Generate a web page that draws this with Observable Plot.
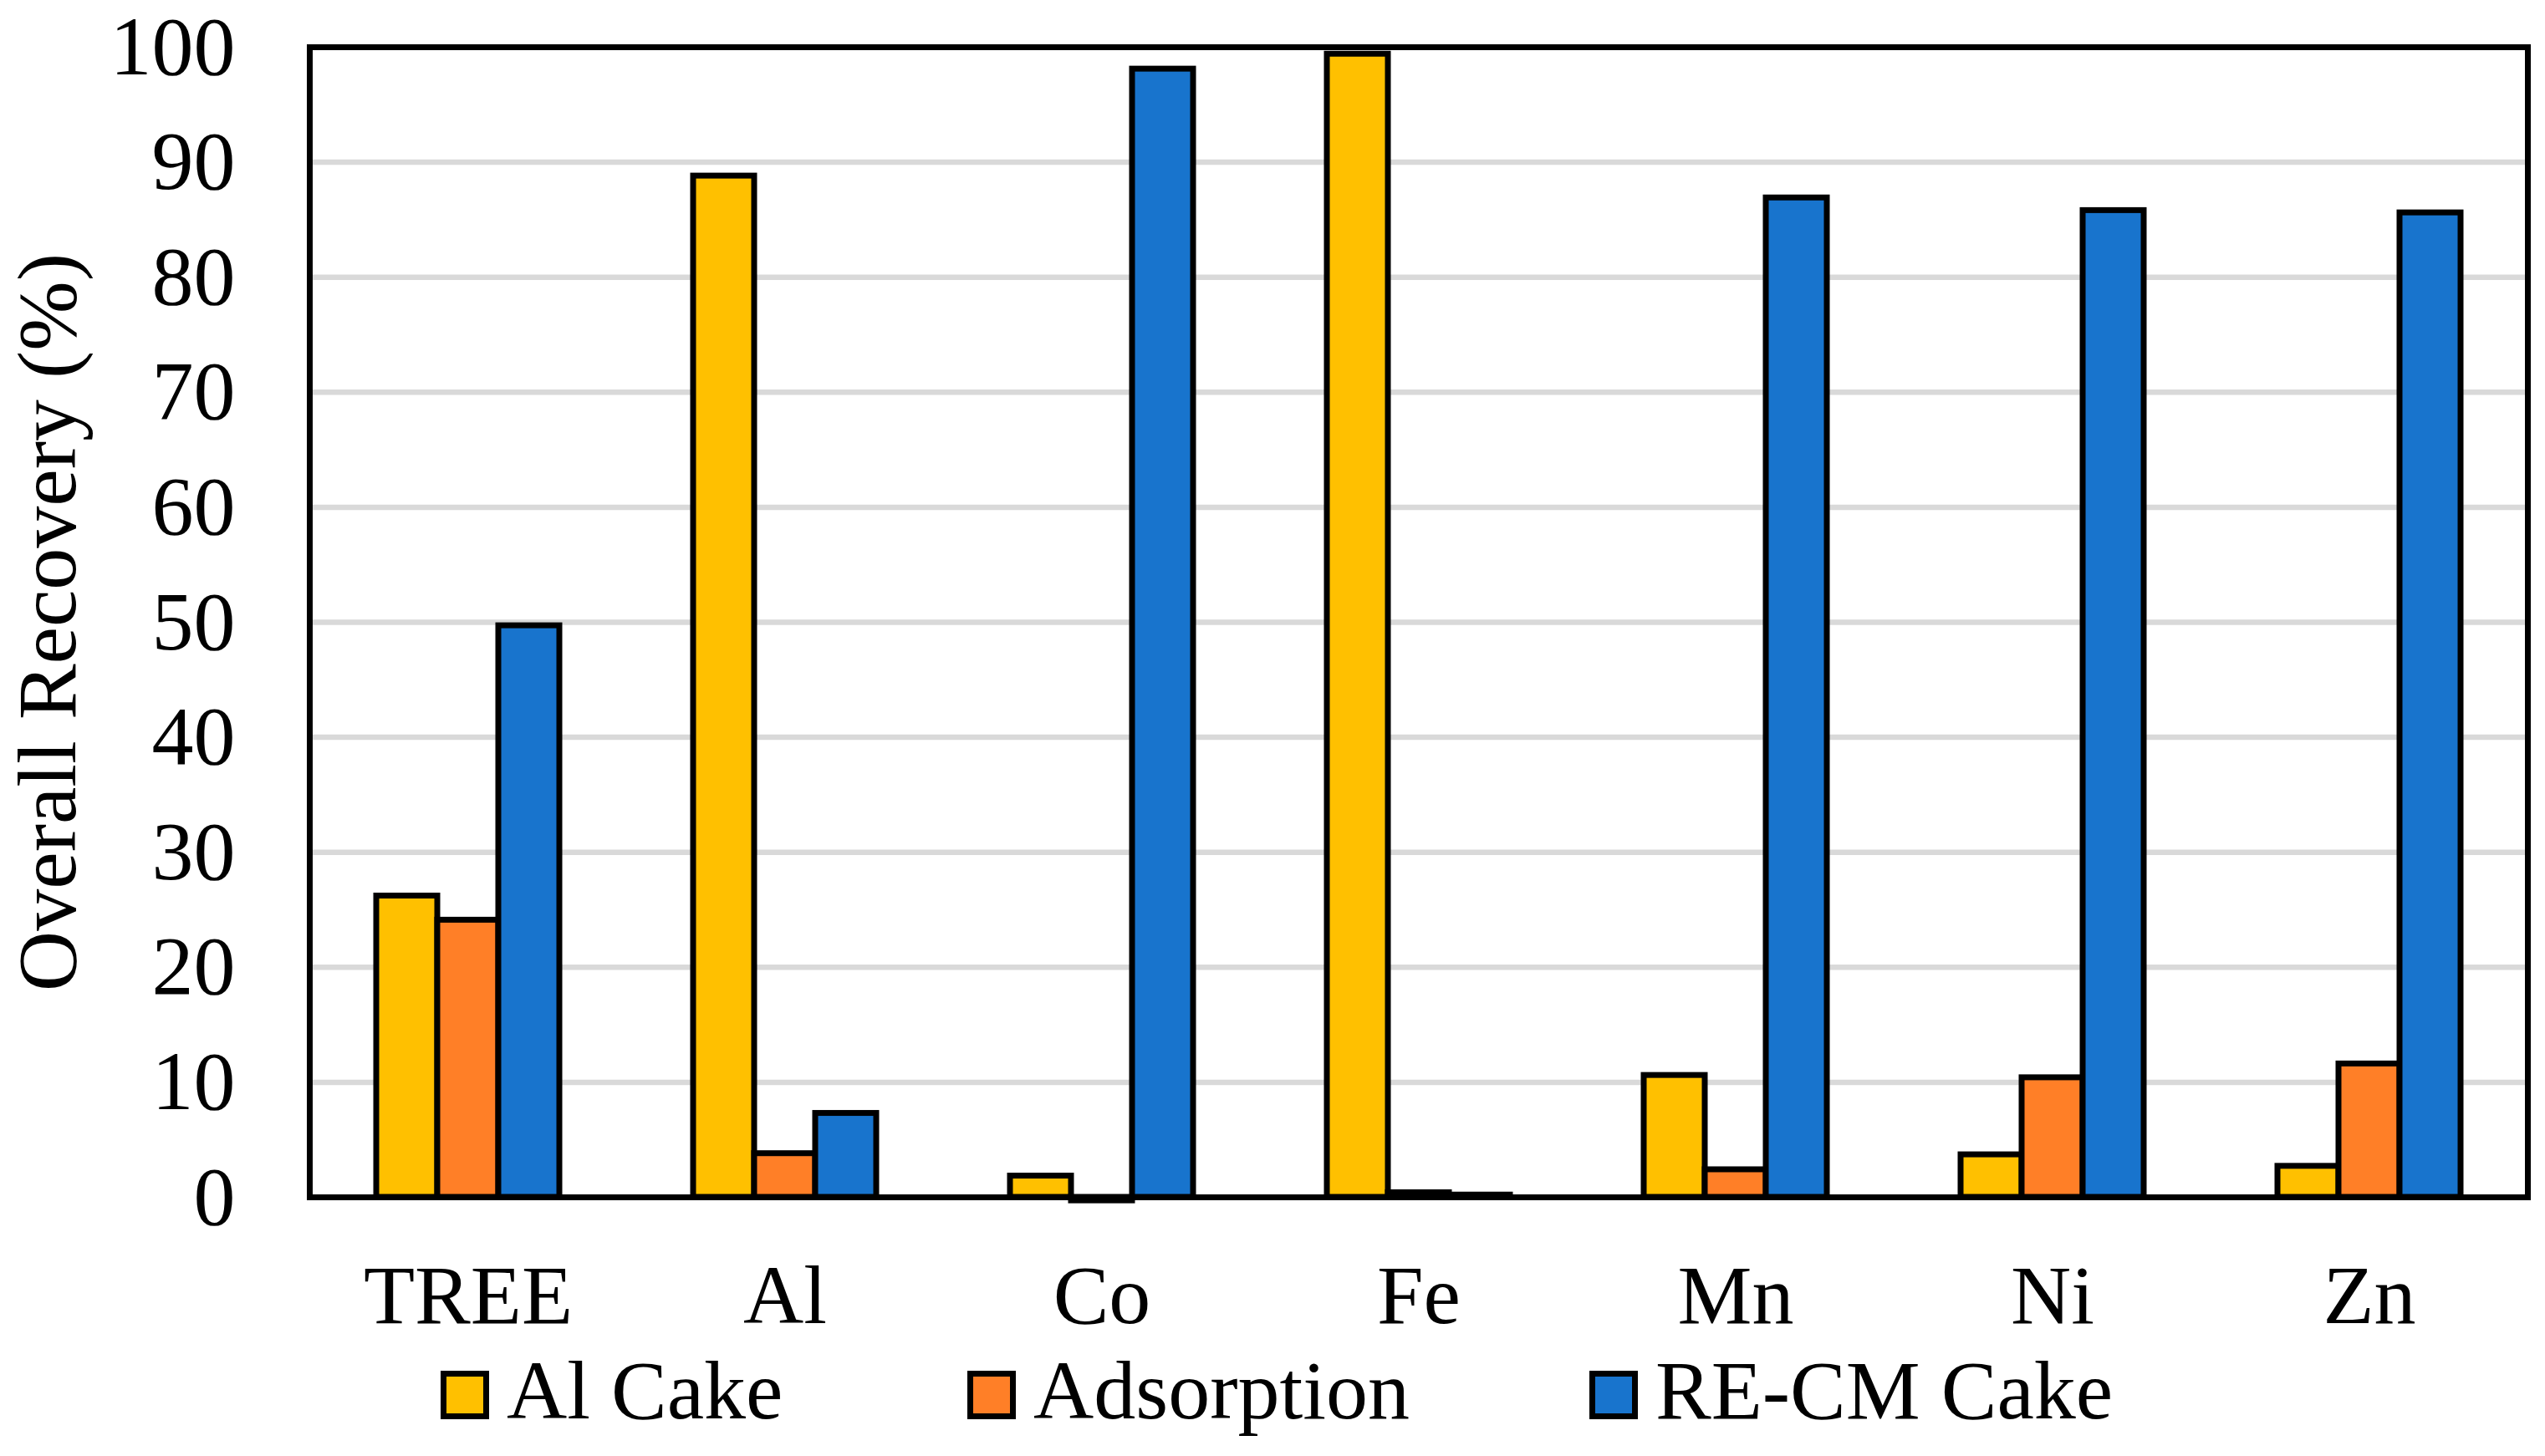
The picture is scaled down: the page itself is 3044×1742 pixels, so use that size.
<!DOCTYPE html>
<html>
<head>
<meta charset="utf-8">
<script src="https://cdn.jsdelivr.net/npm/d3@7"></script>
<script src="https://cdn.jsdelivr.net/npm/@observablehq/plot@0.6"></script>
<style>
  html, body { margin: 0; padding: 0; background: #fff; }
  #chart { width: 3044px; }
  #legend { position: relative; width: 3044px; height: 132px; font-family: 'Liberation Serif', 'Times New Roman', serif; font-size: 100px; color: #000; }
  .sw { position: absolute; top: 30px; width: 58px; height: 58px; box-sizing: border-box; border: 7px solid #000; }
  .lb { position: absolute; top: 4px; line-height: 100px; white-space: nowrap; }
</style>
</head>
<body>
<div id="chart"></div>
<div id="legend"></div>
<script>
const categories = ["TREE", "Al", "Co", "Fe", "Mn", "Ni", "Zn"];
const seriesNames = ["Al Cake", "Adsorption", "RE-CM Cake"];
const alCake     = [26.2, 88.8, 1.85, 99.4, 10.6, 3.7, 2.7];
const adsorption = [24.1, 3.8, -0.3, 0.4, 2.4, 10.4, 11.6];
const reCmCake   = [49.7, 7.3, 98.1, 0.2, 86.9, 85.8, 85.6];
const yTicks = [0, 10, 20, 30, 40, 50, 60, 70, 80, 90, 100];
const gridTicks = [10, 20, 30, 40, 50, 60, 70, 80, 90];
const colors = ["#FFC000", "#FF7F27", "#1874CD"];

const seriesValues = [alCake, adsorption, reCmCake];
const table = [];
categories.forEach((c, i) => {
  seriesNames.forEach((s, j) => {
    table.push({category: c, series: s, value: seriesValues[j][i]});
  });
});

const chart = Plot.plot({
  width: 3044,
  height: 1610,
  marginLeft: 369,
  marginRight: 21,
  marginTop: 56,
  marginBottom: 178,
  style: {fontFamily: "'Liberation Serif', 'Times New Roman', serif", fontSize: "100px", background: "#fff", color: "#000", overflow: "visible"},
  fx: {domain: categories, padding: 0},
  x: {domain: seriesNames, paddingInner: 0, paddingOuter: 1.09, axis: null},
  y: {domain: [0, 100]},
  color: {domain: seriesNames, range: colors},
  marks: [
    Plot.ruleY(gridTicks, {stroke: "#D9D9D9", strokeWidth: 6.5}),
    Plot.barY(table, {fx: "category", x: "series", y: "value", fill: "series", stroke: "#000", strokeWidth: 7}),
    Plot.frame({facet: "super", stroke: "#000", strokeWidth: 7}),
    Plot.axisY({ticks: yTicks, tickSize: 0, tickPadding: 89, tickFormat: d => String(d), label: "Overall Recovery (%)", labelAnchor: "center", labelArrow: "none", labelOffset: 352}),
    Plot.axisFx({anchor: "bottom", tickSize: 0, tickPadding: 79, label: null})
  ]
});
document.getElementById("chart").appendChild(chart);

const legendPos = [{sw: 527, lb: 606}, {sw: 1157, lb: 1236}, {sw: 1901, lb: 1980}];
const legend = document.getElementById("legend");
seriesNames.forEach((s, j) => {
  const sw = document.createElement("div");
  sw.className = "sw";
  sw.style.left = legendPos[j].sw + "px";
  sw.style.background = colors[j];
  legend.appendChild(sw);
  const lb = document.createElement("div");
  lb.className = "lb";
  lb.style.left = legendPos[j].lb + "px";
  lb.textContent = s;
  legend.appendChild(lb);
});
</script>
</body>
</html>
